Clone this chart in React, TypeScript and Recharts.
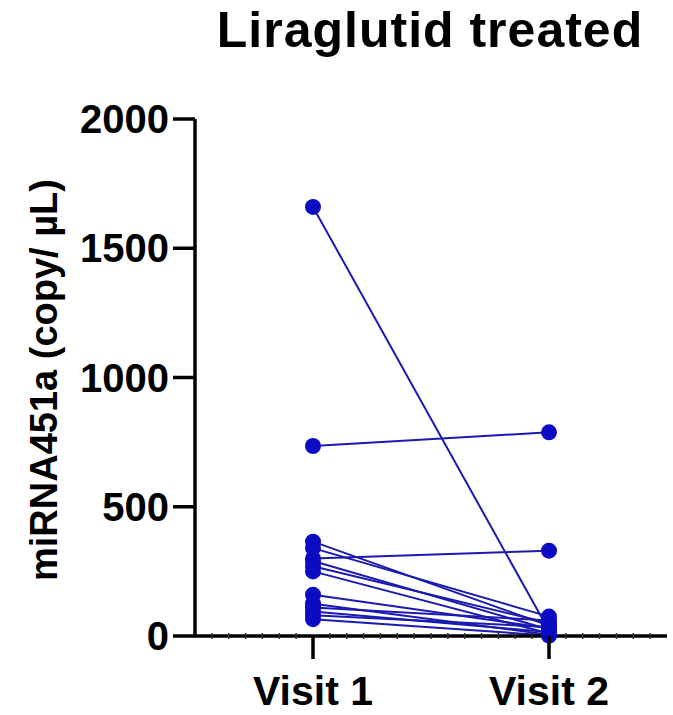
import { Line, LineChart, XAxis, YAxis } from "recharts";

// miRNA451a per subject, Visit 1 and Visit 2 (paired by index)
const subjects = ["S1", "S2", "S3", "S4", "S5", "S6", "S7", "S8", "S9", "S10", "S11", "S12", "S13", "S14"];
const visit1Values = [1660, 735, 300, 365, 340, 290, 270, 250, 160, 125, 110, 95, 80, 65];
const visit2Values = [20, 788, 330, 40, 75, 25, 50, 10, 30, 5, 60, 15, 35, 2];
const visitLabels = ["Visit 1", "Visit 2"];
const yTicks = [0, 500, 1000, 1500, 2000];

const FONT = '"Liberation Sans", Arial, Helvetica, sans-serif';
const DOT_COLOR = "#0b0bc4";
const LINE_COLOR = "#1a1ab0";
const WIDTH = 673;
const HEIGHT = 715;

// one row per visit, one column per subject
const chartData = visitLabels.map((_, vi) => {
  const row: Record<string, number> = { visit: vi + 1 };
  subjects.forEach((s, i) => {
    row[s] = vi === 0 ? visit1Values[i] : visit2Values[i];
  });
  return row;
});

// minor ticks every 1/14 of a visit step along the x axis
const xTicks = Array.from({ length: 27 }, (_, k) => 0.5 + (k + 1) / 14);

const XTick = (props: any) => {
  const { x, y, payload } = props;
  const v = Number(payload.value);
  const major = Math.abs(v - Math.round(v)) < 1e-6 && Math.round(v) >= 1 && Math.round(v) <= 2;
  if (!major) {
    return <line x1={x} x2={x} y1={y - 3} y2={y + 3} stroke="#333" strokeWidth={1.5} />;
  }
  return (
    <g>
      <line x1={x} x2={x} y1={y} y2={y + 23} stroke="#000" strokeWidth={3.5} />
      <text x={x} y={y + 69} textAnchor="middle" fontFamily={FONT} fontWeight={700} fontSize={41} fill="#000">
        {visitLabels[Math.round(v) - 1]}
      </text>
    </g>
  );
};

export default function App() {
  return (
    <div style={{ position: "absolute", left: 0, top: 0, width: WIDTH, height: HEIGHT, background: "#fff" }}>
      <LineChart width={WIDTH} height={HEIGHT} data={chartData} margin={{ top: 119, right: 6, bottom: 0, left: 0 }}>
        <XAxis
          dataKey="visit"
          type="number"
          domain={[0.5, 2.5]}
          ticks={xTicks}
          interval={0}
          height={79}
          axisLine={{ stroke: "#000", strokeWidth: 3.5 }}
          tickLine={false}
          tickSize={0}
          tickMargin={0}
          tick={<XTick />}
        />
        <YAxis
          type="number"
          domain={[0, 2000]}
          ticks={yTicks}
          interval={0}
          width={195}
          axisLine={{ stroke: "#000", strokeWidth: 3.5 }}
          tickLine={{ stroke: "#000", strokeWidth: 3.5 }}
          tickSize={22}
          tickMargin={4}
          tick={{ fill: "#000", fontSize: 40, fontWeight: 700, fontFamily: FONT }}
        />
        {subjects.map((s) => (
          <Line
            key={s}
            dataKey={s}
            stroke={LINE_COLOR}
            strokeWidth={2}
            dot={{ r: 8, fill: DOT_COLOR, stroke: DOT_COLOR, strokeWidth: 0 }}
            activeDot={false}
            isAnimationActive={false}
          />
        ))}
      </LineChart>
      <svg
        width={WIDTH}
        height={HEIGHT}
        style={{ position: "absolute", left: 0, top: 0, pointerEvents: "none" }}
      >
        <text x={430} y={47} textAnchor="middle" fontFamily={FONT} fontWeight={700} fontSize={50} letterSpacing={1} fill="#000">
          Liraglutid treated
        </text>
        <text
          x={0}
          y={0}
          transform="translate(57 380) rotate(-90)"
          textAnchor="middle"
          fontFamily={FONT}
          fontWeight={700}
          fontSize={38}
          fill="#000"
        >
          miRNA451a (copy/ µL)
        </text>
      </svg>
    </div>
  );
}
